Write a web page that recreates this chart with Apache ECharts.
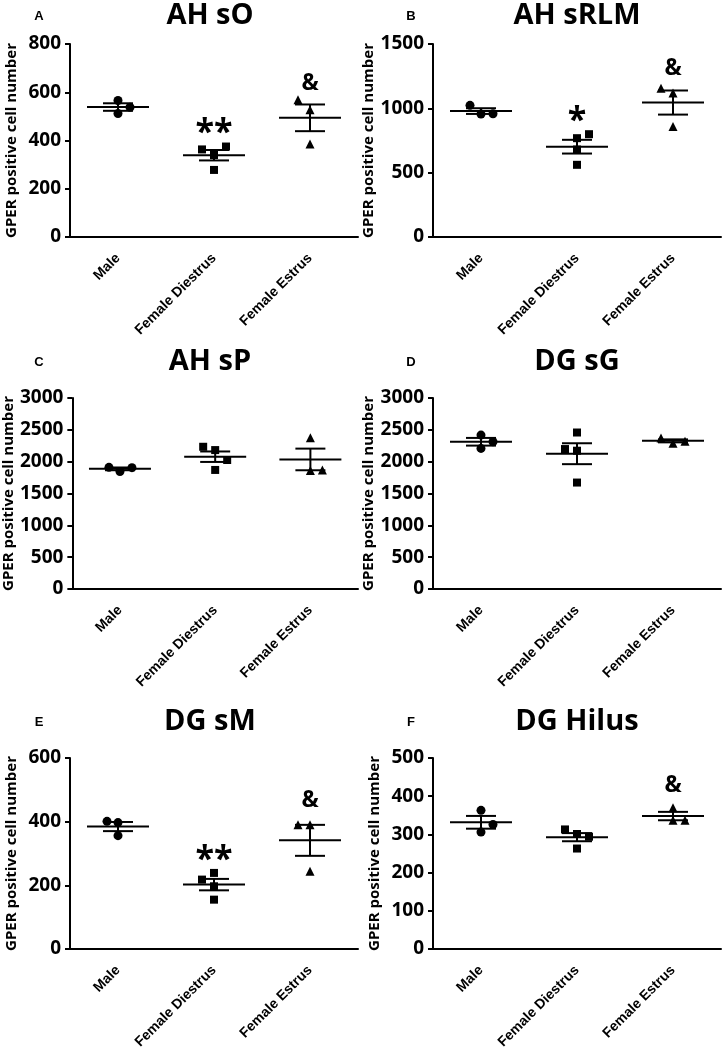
<!DOCTYPE html>
<html>
<head>
<meta charset="utf-8">
<script src="https://cdn.jsdelivr.net/npm/echarts@6/dist/echarts.min.js"></script>
<style>
html,body{margin:0;padding:0;background:#fff;}
#chart{width:726px;height:1052px;}
</style>
</head>
<body>
<div id="chart"></div>
<script>
// ---- data ----
const categories = ['Male', 'Female Diestrus', 'Female Estrus'];
const panelTitles = ['AH sO', 'AH sRLM', 'AH sP', 'DG sG', 'DG sM', 'DG Hilus'];
const panelLetters = ['A', 'B', 'C', 'D', 'E', 'F'];
const yAxisName = 'GPER positive cell number';
const yMax = [800, 1500, 3000, 3000, 600, 500];
const yInterval = [200, 500, 500, 500, 200, 100];

// panel A  AH sO
const aMale = [566, 512, 538];
const aDiestrus = [363, 375, 340, 278];
const aEstrus = [569, 527, 386];
// panel B  AH sRLM
const bMale = [1023, 955, 958];
const bDiestrus = [799, 768, 680, 561];
const bEstrus = [1157, 1119, 859];
// panel C  AH sP
const cMale = [1911, 1844, 1906];
const cDiestrus = [2234, 2182, 2026, 1870];
const cEstrus = [2375, 1860, 1870];
// panel D  DG sG
const dMale = [2417, 2208, 2313];
const dDiestrus = [2458, 2198, 2172, 1672];
const dEstrus = [2370, 2290, 2320];
// panel E  DG sM
const eMale = [401, 397, 356];
const eDiestrus = [218, 239, 197, 155];
const eEstrus = [390, 390, 244];
// panel F  DG Hilus
const fMale = [363, 326, 306];
const fDiestrus = [313, 301, 294, 263];
const fEstrus = [370, 337, 337];

// significance marks: [category index, value position, text]
const aMarks = [[1, 472, '**'], [2, 638, '&']];
const bMarks = [[1, 976, '*'], [2, 1313, '&']];
const cMarks = [];
const dMarks = [];
const eMarks = [[1, 311, '**'], [2, 468, '&']];
const fMarks = [[2, 429, '&']];

const panelData = [
  [aMale, aDiestrus, aEstrus],
  [bMale, bDiestrus, bEstrus],
  [cMale, cDiestrus, cEstrus],
  [dMale, dDiestrus, dEstrus],
  [eMale, eDiestrus, eEstrus],
  [fMale, fDiestrus, fEstrus]
];
const panelMarks = [aMarks, bMarks, cMarks, dMarks, eMarks, fMarks];

// ---- layout / style (horizontal jitter of overlapping points, px) ----
const jitter = [
  [[0, 0, 12], [-12, 12, 0, 0], [-12, 0, 0]],
  [[-11, 0, 12], [12, 0, 0, 0], [-12, 0, 0]],
  [[-11, 0, 12], [-12, 0, 12, 0], [0, 0, 12]],
  [[0, 0, 12], [0, -12, 0, 0], [-12, 0, 12]],
  [[-11, 0, 0], [-12, 0, 0, 0], [-12, 0, 0]],
  [[0, 12, 0], [-12, 0, 12, 0], [0, 0, 12]]
];
const symbols = ['circle', 'rect', 'triangle'];
const symbolSizes = [9, 8, 9];
const colLeft = [70, 433];
const gridWidth = 288;
const rowTop = [44, 398, 758];
const rowHeight = [193, 191, 191];
const titleY = [16, 362, 722];

const FONT = '"Open Sans", "Noto Sans", sans-serif';

function mean(a) { return a.reduce((s, v) => s + v, 0) / a.length; }
function sem(a) {
  const m = mean(a);
  const sd = Math.sqrt(a.reduce((s, v) => s + (v - m) * (v - m), 0) / (a.length - 1));
  return sd / Math.sqrt(a.length);
}

const grids = [], xAxes = [], yAxes = [], series = [], graphics = [];

for (let p = 0; p < 6; p++) {
  const col = p % 2, row = Math.floor(p / 2);
  const left = colLeft[col];
  grids.push({ left: left, top: rowTop[row], width: gridWidth, height: rowHeight[row] });
  xAxes.push({
    gridIndex: p, type: 'category', data: categories, boundaryGap: true,
    axisLine: { lineStyle: { color: '#000', width: 2 } },
    axisTick: { alignWithLabel: true, length: 5, lineStyle: { color: '#000', width: 2 } },
    axisLabel: { rotate: 45, interval: 0, margin: 19, color: '#000', fontFamily: '"Liberation Sans", Arial, sans-serif', fontWeight: 'bold', fontSize: 14 },
    splitLine: { show: false }
  });
  yAxes.push({
    gridIndex: p, type: 'value', min: 0, max: yMax[p], interval: yInterval[p],
    name: yAxisName, nameLocation: 'middle', nameGap: 51,
    nameTextStyle: { color: '#000', fontFamily: FONT, fontWeight: 'bold', fontSize: 15 },
    axisLine: { show: true, lineStyle: { color: '#000', width: 2 } },
    axisTick: { show: true, length: 5, lineStyle: { color: '#000', width: 2 } },
    axisLabel: { color: '#000', fontFamily: FONT, fontWeight: 'bold', fontSize: 19, margin: 9, formatter: v => String(v) },
    splitLine: { show: false }
  });

  const groups = panelData[p];
  const stats = [];
  groups.forEach((vals, g) => {
    series.push({
      type: 'scatter', xAxisIndex: p, yAxisIndex: p,
      symbol: symbols[g], symbolSize: symbolSizes[g],
      itemStyle: { color: '#000', opacity: 1 },
      silent: true, z: 3,
      data: vals.map((v, i) => ({ value: [g, v], symbolOffset: [jitter[p][g][i], 0] }))
    });
    stats.push([g, mean(vals), sem(vals)]);
  });

  series.push({
    type: 'custom', xAxisIndex: p, yAxisIndex: p, z: 4, silent: true,
    data: stats,
    renderItem: function (params, api) {
      const c = api.coord([api.value(0), api.value(1)]);
      const hi = api.coord([api.value(0), api.value(1) + api.value(2)]);
      const lo = api.coord([api.value(0), api.value(1) - api.value(2)]);
      const st = { stroke: '#000', lineWidth: 2 };
      return {
        type: 'group', children: [
          { type: 'line', shape: { x1: c[0] - 31, y1: c[1], x2: c[0] + 31, y2: c[1] }, style: st },
          { type: 'line', shape: { x1: c[0] - 15, y1: hi[1], x2: c[0] + 15, y2: hi[1] }, style: st },
          { type: 'line', shape: { x1: c[0] - 15, y1: lo[1], x2: c[0] + 15, y2: lo[1] }, style: st },
          { type: 'line', shape: { x1: c[0], y1: hi[1], x2: c[0], y2: lo[1] }, style: st }
        ]
      };
    }
  });

  const marks = panelMarks[p];
  if (marks.length) {
    series.push({
      type: 'scatter', xAxisIndex: p, yAxisIndex: p, symbolSize: 1, silent: true,
      itemStyle: { color: 'rgba(0,0,0,0)', opacity: 1 }, z: 5,
      data: marks.map(m => ({
        value: [m[0], m[1]],
        label: {
          show: true, position: 'inside', formatter: m[2], color: '#000', opacity: 1,
          fontFamily: FONT, fontWeight: 'bold',
          fontSize: m[2] === '&' ? 23 : 34,
          offset: [0, m[2] === '&' ? 0 : 10]
        }
      }))
    });
  }

  graphics.push({
    type: 'text', x: left + gridWidth / 2 - (col === 0 ? 4 : 0), y: titleY[row],
    style: { text: panelTitles[p], fill: '#000', font: 'bold 29px ' + FONT, textAlign: 'center', textVerticalAlign: 'middle' }
  });
  graphics.push({
    type: 'text', x: col === 0 ? 39 : 411, y: titleY[row],
    style: { text: panelLetters[p], fill: '#000', font: 'bold 13px "Liberation Sans", Arial, sans-serif', textAlign: 'center', textVerticalAlign: 'middle' }
  });
}

const chart = echarts.init(document.getElementById('chart'), null, { renderer: 'canvas' });
chart.setOption({
  animation: false,
  backgroundColor: '#fff',
  grid: grids, xAxis: xAxes, yAxis: yAxes, series: series, graphic: graphics
});
</script>
</body>
</html>
